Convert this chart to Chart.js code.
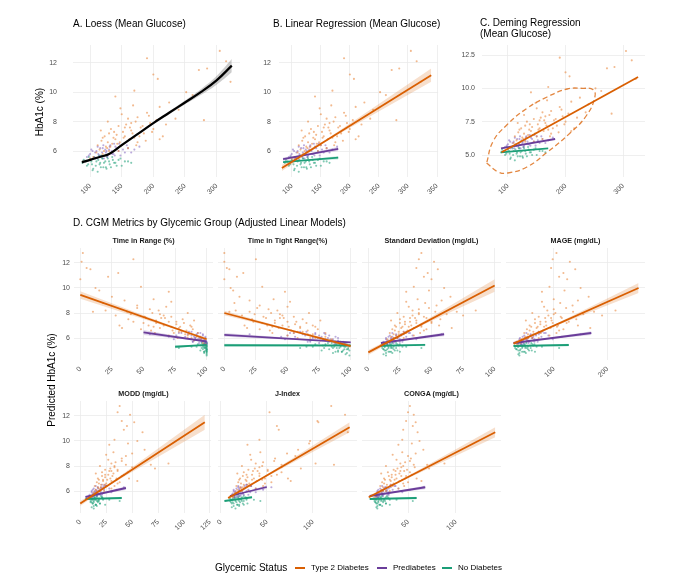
<!DOCTYPE html>
<html>
<head>
<meta charset="utf-8">
<script src="https://cdn.jsdelivr.net/npm/chart.js@4.4.1/dist/chart.umd.min.js"></script>
<style>
  body { margin: 0; background: #fff; font-family: "Liberation Sans", Arial, sans-serif; }
  #page { position: relative; width: 680px; height: 580px; overflow: hidden; }
  #page canvas { position: absolute; }
  .txt { position: absolute; white-space: nowrap; color: #000; line-height: 1; }
</style>
</head>
<body>
<div id="page"></div>
<script>
// ---- data ----
// one entry per subject, same order in every array of a group
const t2dHbA1c   = [12.8,12.3,12.1,11.6,11.5,11.2,10.9,10.7,10.1,10.0,9.8,9.7,9.3,9.0,8.8,8.1,8.6,8.3,8.2,8.5,7.9,7.6,7.4,7.7,7.2,7.0,6.9,6.8,6.9,7.2,7.5,6.5,6.3,6.4,6.2,6.1,5.9,6.0,6.0,6.6,7.8,8.2,5.6,5.8,5.5,7.9,7.6,6.8,7.3,6.6,
                    6.4,6.7,7.0,6.2,7.5,6.9,7.1,6.6,7.3,7.8,6.8,7.2,8.0,7.0,7.7,6.7,8.4,7.3,8.1,7.0,6.0,6.3,6.5,6.9,7.6,6.4,7.4,8.0,8.9,9.1];
const t2dGlucose = [305,190,315,285,272,200,207,322,170,252,262,140,225,210,240,280,190,175,160,150,195,180,165,145,130,155,170,140,120,185,200,135,125,150,160,115,110,130,145,175,220,235,105,120,100,165,155,210,138,128,
                    112,118,123,127,133,137,142,147,152,157,162,167,172,178,183,188,193,198,205,215,122,132,143,153,163,173,117,128,148,168];
const t2dTIR     = [2,42,1,5,8,30,22,0,48,12,15,70,25,35,18,10,45,55,62,68,40,52,60,72,82,66,58,78,88,50,38,80,86,74,70,92,95,85,77,56,28,20,97,90,99,63,67,33,76,84,
                    93,89,87,85,81,79,76,73,70,66,63,60,57,54,51,48,45,42,37,31,88,83,78,72,64,59,90,85,72,58];
const t2dTITR    = [0,25,0,2,4,15,10,0,30,5,7,48,12,20,8,4,28,35,42,50,24,33,40,55,65,46,38,60,72,30,22,62,70,55,50,80,85,68,58,36,14,9,90,76,94,44,47,18,57,66,
                    80,74,70,68,62,60,56,53,50,46,43,40,37,34,31,28,26,23,20,16,72,66,58,51,44,38,76,67,52,39];
const t2dSD      = [42,40,52,38,55,47,44,50,36,60,48,30,65,58,45,70,54,40,35,32,62,46,38,28,25,34,42,26,22,50,57,24,20,30,36,18,15,23,28,44,75,85,14,19,12,40,33,66,29,21,
                    17,19,21,22,25,27,29,31,33,35,36,38,40,42,44,46,48,50,53,56,20,24,28,32,37,41,18,23,30,39];
const t2dMAGE    = [105,98,130,95,140,118,110,125,92,150,120,78,165,145,112,175,135,100,88,82,155,115,96,72,65,86,106,68,58,124,142,62,52,76,92,47,40,60,72,110,190,215,38,50,32,100,84,168,75,55,
                    45,50,55,58,65,70,75,80,85,90,94,98,103,108,113,118,123,128,136,145,52,62,72,82,95,105,48,60,78,100];
const t2dMODD    = [38,36,48,40,52,45,42,60,33,55,46,28,62,50,44,68,40,34,30,27,50,36,32,24,21,29,35,22,18,40,46,20,17,25,30,15,13,19,23,36,72,85,12,16,10,33,28,55,24,18,
                    14,16,17,18,21,22,24,25,27,29,30,31,33,35,36,38,40,42,44,47,16,20,23,26,30,33,15,19,25,32];
const t2dJ       = [120,53,135,105,106,61,63,138,42,97,96,29,84,72,81,123,59,46,38,33,66,51,42,30,24,36,45,28,20,55,66,25,21,32,38,18,16,23,30,48,87,103,14,19,13,42,35,76,28,22,
                    17,19,21,22,25,27,29,31,34,37,39,42,45,48,51,55,58,61,66,73,20,24,29,34,40,46,18,23,32,43];
const t2dCONGA   = [52,50,56,48,58,55,45,60,44,62,54,40,66,58,50,70,53,47,42,38,57,46,41,35,30,38,44,32,26,48,52,28,24,34,40,22,19,27,31,45,72,88,17,22,15,43,37,64,33,25,
                    21,23,25,26,29,31,33,35,37,39,41,43,45,47,49,50,52,54,56,59,24,28,32,36,42,46,22,27,34,44];

const preHbA1c   = [5.6,5.8,5.5,6.0,5.7,6.2,5.9,6.1,5.8,6.3,6.0,6.4,5.9,6.2,5.9,5.6,5.7,6.3,6.5,6.1,6.1,5.5,5.7,6.4,6.3,
                    5.7,6.0,5.6,5.8,6.2,5.9,6.1,5.6,6.3,6.0,5.8,6.2,6.5,6.1,6.4,5.5,6.4,6.0,5.7,5.9];
const preGlucose = [95,100,105,110,115,120,125,130,135,140,145,150,155,160,108,118,128,112,138,170,102,122,148,132,178,
                    98,104,107,113,116,119,124,127,131,134,137,142,146,152,158,111,121,126,139,165];
const preTIR     = [100,99,100,96,97,92,95,90,94,85,91,80,93,76,98,99,96,97,88,70,99,98,89,93,55,
                    100,99,99,98,97,96,95,94,92,91,90,88,86,83,78,98,95,94,89,74];
const preTITR    = [95,90,97,82,88,75,84,70,80,62,74,55,78,50,86,92,83,80,65,45,88,93,68,72,20,
                    94,90,88,85,83,80,77,75,72,70,68,64,60,56,52,87,79,76,66,48];
const preSD      = [12,15,13,18,16,22,19,24,20,28,23,32,25,35,14,17,21,26,30,45,16,15,27,29,58,
                    12,14,15,16,17,18,19,20,22,23,24,26,28,30,33,15,19,20,25,38];
const preMAGE    = [32,40,34,46,42,56,50,62,52,72,60,82,64,90,36,44,54,66,78,115,42,38,70,74,150,
                    31,37,39,43,45,48,51,53,57,60,62,67,72,77,85,41,49,52,64,98];
const preMODD    = [9,12,10,14,13,17,15,19,16,22,18,25,20,28,11,13,16,20,24,35,12,11,21,23,42,
                    9,11,12,13,13,14,15,16,17,18,19,20,21,23,25,12,15,16,19,30];
const preJ       = [11,13,14,16,17,20,21,24,24,28,28,33,32,38,15,18,22,19,28,46,14,19,30,26,55,
                    12,14,15,16,17,18,20,21,22,23,24,26,28,30,33,15,19,20,25,38];
const preCONGA   = [16,18,17,21,20,25,23,28,25,32,28,36,30,40,18,20,24,27,34,52,19,18,30,31,66,
                    16,18,18,20,21,22,23,24,26,27,28,30,32,34,37,19,23,24,29,44];

const ndHbA1c    = [5.2,5.0,5.4,4.8,5.3,5.1,5.5,4.9,5.3,5.6,5.2,5.4,5.0,5.3,5.6,5.5,4.6,5.7,5.2,5.5,5.1,4.9,5.2,5.3,4.9,
                    5.4,5.1,5.3,5.6,5.0,5.4,5.2,5.5,4.9,5.3,5.6,5.1,5.4,5.0,5.5,4.7,5.7,4.8,5.2,5.3];
const ndGlucose  = [88,95,100,105,110,115,120,125,130,135,140,145,150,160,98,108,112,118,122,128,103,133,165,93,117,
                    90,97,102,106,109,113,116,119,121,124,127,131,136,142,148,104,114,126,138,155];
const ndTIR      = [100,100,100,100,99,100,98,100,97,96,98,95,99,88,100,100,100,99,99,97,100,98,78,100,100,
                    100,100,100,100,100,99,99,99,98,98,98,97,96,95,93,100,99,98,96,92];
const ndTITR     = [98,99,94,97,92,95,88,93,85,82,86,78,90,65,96,91,99,87,89,80,97,90,60,95,93,
                    99,98,96,95,94,92,91,89,88,87,85,83,80,77,72,96,92,86,79,70];
const ndSD       = [11,13,12,14,16,15,18,17,20,22,19,24,21,30,13,15,14,19,18,23,12,25,42,13,16,
                    10,12,13,13,14,15,16,17,18,18,19,20,22,23,25,12,15,19,22,27];
const ndMAGE     = [28,34,31,36,42,38,46,44,52,58,50,62,54,78,33,39,36,49,47,60,31,65,110,34,41,
                    27,30,33,35,37,40,41,44,46,47,49,52,56,59,64,34,40,48,57,68];
const ndMODD     = [10,12,11,13,14,13,16,15,18,20,17,22,19,28,12,14,13,17,16,21,11,24,38,12,15,
                    9,10,11,12,12,13,13,14,15,15,16,17,18,19,21,11,13,16,18,22];
const ndJ        = [10,12,13,14,16,17,19,20,22,25,25,28,29,36,12,15,16,19,20,23,13,25,43,11,18,
                    10,11,12,13,14,15,16,17,18,19,20,21,22,24,27,12,15,20,23,28];
const ndCONGA    = [15,17,16,18,20,19,22,21,25,28,24,30,27,38,17,19,18,23,22,27,16,31,55,17,20,
                    14,16,16,17,18,19,19,21,21,22,23,24,26,27,29,17,19,23,26,31];

// loess curve of panel A
const loessX    = [87,100,115,130,150,175,200,225,250,275,300,324];
const loessY    = [5.25,5.4,5.6,5.8,6.4,7.15,7.9,8.6,9.3,10.0,10.8,11.8];
const loessHalf = [0.14,0.08,0.06,0.06,0.07,0.07,0.08,0.1,0.14,0.2,0.3,0.45];

// 95% ellipse of the type 2 group in panel C
const ellipseX = [63,83,100,133,168,208,237,251,248,230,203,168,133,98,74,63];
const ellipseY = [4.4,3.73,3.65,4.1,5.2,6.65,8.0,9.35,9.9,10.0,9.95,9.35,8.5,7.25,6.0,4.4];

// fitted lines: [x0, y0, x1, y1, x at narrowest band, half band at x0, at narrowest, at x1]
const fitGlucose = { t2d: [83,4.85,340,11.15,160,0.2,0.06,0.45], pre: [85,5.45,180,6.15,125,0.12,0.04,0.15], nd: [85,5.25,180,5.55,120,0.08,0.03,0.12] };
const fitDeming  = { t2d: [89,5.2,326,10.85], pre: [88,5.5,182,6.2], nd: [88,5.2,170,5.5] };
const fitTIR     = { t2d: [0,9.45,100,5.9,75,0.3,0.08,0.12], pre: [50,6.45,100,5.72,92,0.2,0.04,0.06], nd: [75,5.3,100,5.45,97,0.12,0.03,0.04] };
const fitTITR    = { t2d: [0,8.0,100,5.35,50,0.18,0.07,0.15], pre: [0,6.25,100,5.65,75,0.15,0.04,0.06], nd: [0,5.42,100,5.4,85,0.12,0.03,0.04] };
const fitSD      = { t2d: [0,4.85,100,10.2,35,0.2,0.07,0.5], pre: [10,5.6,60,6.3,22,0.06,0.03,0.15], nd: [10,5.38,45,5.45,17,0.05,0.02,0.1] };
const fitMAGE    = { t2d: [25,5.55,258,10.0,95,0.15,0.06,0.4], pre: [25,5.6,170,6.4,60,0.06,0.03,0.15], nd: [25,5.36,128,5.44,45,0.05,0.02,0.1] };
const fitMODD    = { t2d: [0,5.0,120,11.5,30,0.2,0.07,0.6], pre: [5,5.52,44,6.24,18,0.06,0.03,0.15], nd: [5,5.36,40,5.44,16,0.05,0.02,0.1] };
const fitJ       = { t2d: [8,5.44,140,11.1,45,0.12,0.06,0.4], pre: [10,5.6,50,6.32,24,0.06,0.03,0.15], nd: [4,5.2,34,5.5,20,0.06,0.02,0.08] };
const fitCONGA   = { t2d: [9,5.5,141,10.7,40,0.12,0.06,0.4], pre: [10,5.6,68,6.3,28,0.06,0.03,0.15], nd: [10,5.36,59,5.44,22,0.05,0.02,0.1] };

const hbTicks = [6, 8, 10, 12];
const groupNames = ['Type 2 Diabetes', 'Prediabetes', 'No Diabetes'];

// ---- styles ----
const groups = [
  { key: 't2d', line: '#D95F02', point: 'rgba(232,128,50,0.55)', band: 'rgba(217,95,2,0.2)', y: t2dHbA1c },
  { key: 'pre', line: '#6A3D9A', point: 'rgba(120,85,185,0.5)', band: 'rgba(106,61,154,0.2)', y: preHbA1c },
  { key: 'nd',  line: '#1B9E77', point: 'rgba(27,158,119,0.55)', band: 'rgba(27,158,119,0.2)', y: ndHbA1c }
];
const xByGroup = {
  glucose: [t2dGlucose, preGlucose, ndGlucose],
  tir: [t2dTIR, preTIR, ndTIR],
  titr: [t2dTITR, preTITR, ndTITR],
  sd: [t2dSD, preSD, ndSD],
  mage: [t2dMAGE, preMAGE, ndMAGE],
  modd: [t2dMODD, preMODD, ndMODD],
  j: [t2dJ, preJ, ndJ],
  conga: [t2dCONGA, preCONGA, ndCONGA]
};

const page = document.getElementById('page');

function text(str, x, y, css, anchor) {
  const d = document.createElement('div');
  d.className = 'txt';
  d.textContent = str;
  Object.assign(d.style, { left: x + 'px', top: y + 'px' }, css || {});
  d.style.transform = anchor || 'translate(0,-50%)';
  page.appendChild(d);
  return d;
}

function pts(xs, ys) {
  return xs.map((x, i) => ({ x, y: ys[i] }));
}

function fitDatasets(fit, g) {
  const [x0, y0, x1, y1, xm, w0, wm, w1] = fit;
  const out = [];
  if (xm !== undefined) {
    const ym = y0 + (y1 - y0) * (xm - x0) / (x1 - x0);
    out.push({ data: [{ x: x0, y: y0 - w0 }, { x: xm, y: ym - wm }, { x: x1, y: y1 - w1 }], showLine: true, borderWidth: 0, pointRadius: 0, fill: false, order: 2 });
    out.push({ data: [{ x: x0, y: y0 + w0 }, { x: xm, y: ym + wm }, { x: x1, y: y1 + w1 }], showLine: true, borderWidth: 0, pointRadius: 0, fill: '-1', backgroundColor: g.band, order: 2 });
  }
  out.push({ data: [{ x: x0, y: y0 }, { x: x1, y: y1 }], showLine: true, borderColor: g.line, borderWidth: 1.8, pointRadius: 0, fill: false, order: 0 });
  return out;
}

function makePanel(p) {
  const padT = (p.yLabels ? p.ypad : 0) + 10, padR = 8, padB = 2, XH = 24;
  const YW = p.yLabels ? p.ypad + 18 : 0;
  const padL = p.yLabels ? 2 : 16;
  const [L, T, R, B] = p.rect;
  const cw = padL + YW + (R - L) + padR;
  const ch = padT + (B - T) + XH + padB;
  const canvas = document.createElement('canvas');
  canvas.width = cw; canvas.height = ch;
  canvas.style.left = (L - padL - YW) + 'px';
  canvas.style.top = (T - padT) + 'px';
  canvas.style.width = cw + 'px'; canvas.style.height = ch + 'px';
  page.appendChild(canvas);

  const datasets = [];
  groups.forEach((g, gi) => {
    datasets.push({ data: pts(xByGroup[p.metric][gi], g.y), showLine: false, pointRadius: 1.05, pointBorderWidth: 0,
      pointBackgroundColor: g.point, order: 3 });
    if (p.fit) fitDatasets(p.fit[g.key], g).forEach(d => datasets.push(d));
  });
  if (p.loess) {
    datasets.push({ data: pts(loessX, loessY.map((v, i) => v - loessHalf[i])), showLine: true, borderWidth: 0, pointRadius: 0, tension: 0.4, fill: false, order: 2 });
    datasets.push({ data: pts(loessX, loessY.map((v, i) => v + loessHalf[i])), showLine: true, borderWidth: 0, pointRadius: 0, tension: 0.4, fill: '-1', backgroundColor: 'rgba(110,110,110,0.35)', order: 2 });
    datasets.push({ data: pts(loessX, loessY), showLine: true, borderColor: '#000', borderWidth: 2.2, pointRadius: 0, tension: 0.4, fill: false, order: 0 });
  }
  if (p.ellipse) {
    datasets.push({ data: pts(ellipseX, ellipseY), showLine: true, borderColor: 'rgba(217,95,2,0.75)', borderWidth: 1.3, borderDash: [5, 3],
      pointRadius: 0, tension: 0.45, fill: false, order: 1 });
  }

  const tickFont = { family: '"Liberation Sans", Arial, sans-serif', size: 7 };
  new Chart(canvas, {
    type: 'line',
    data: { datasets },
    options: {
      responsive: false,
      animation: false,
      layout: { padding: { top: padT, right: padR, bottom: padB, left: padL } },
      plugins: { legend: { display: false }, tooltip: { enabled: false } },
      elements: { line: { borderCapStyle: 'butt' } },
      scales: {
        x: {
          type: 'linear', min: p.xr[0], max: p.xr[1],
          afterBuildTicks: s => { s.ticks = p.xt.map(v => ({ value: v })); },
          afterFit: s => { s.height = XH; },
          grid: { color: '#EBEBEB', lineWidth: 0.8, drawTicks: false },
          border: { display: false },
          ticks: { color: '#4D4D4D', font: tickFont, padding: 5, minRotation: 45, maxRotation: 45, autoSkip: false }
        },
        y: {
          type: 'linear', min: p.yr[0], max: p.yr[1], display: true,
          afterBuildTicks: s => { s.ticks = p.yt.map(v => ({ value: v })); },
          afterFit: s => { s.width = YW; },
          grid: { color: '#EBEBEB', lineWidth: 0.8, drawTicks: false },
          border: { display: false },
          ticks: { display: !!p.yLabels, color: '#4D4D4D', font: tickFont, padding: p.ypad || 4,
            callback: v => p.yFmt ? v.toFixed(1) : String(v) }
        }
      }
    }
  });
}

const hbRange = [4.24, 13.2];
const row1 = [248, 360], row2 = [401, 513];
const colL = [74, 218, 362, 506], colW = 139;

const panels = [
  { rect: [73, 45, 240, 177], metric: 'glucose', xr: [73, 337], xt: [100, 150, 200, 250, 300], yr: hbRange, yt: hbTicks, yLabels: true, ypad: 16, loess: true },
  { rect: [279, 45, 440, 177], metric: 'glucose', xr: [78, 352], xt: [100, 150, 200, 250, 300, 350], yr: hbRange, yt: hbTicks, yLabels: true, ypad: 8, fit: fitGlucose },
  { rect: [482, 45, 645, 177], metric: 'glucose', xr: [55, 338], xt: [100, 200, 300], yr: [3.35, 13.25], yt: [5, 7.5, 10, 12.5], yLabels: true, ypad: 7, yFmt: true, fit: fitDeming, ellipse: true },
  { rect: [colL[0], row1[0], colL[0] + colW, row1[1]], metric: 'tir', xr: [-5, 105], xt: [0, 25, 50, 75, 100], yr: hbRange, yt: hbTicks, yLabels: true, ypad: 4, fit: fitTIR, strip: 'Time in Range (%)' },
  { rect: [colL[1], row1[0], colL[1] + colW, row1[1]], metric: 'titr', xr: [-5, 105], xt: [0, 25, 50, 75, 100], yr: hbRange, yt: hbTicks, fit: fitTITR, strip: 'Time in Tight Range(%)' },
  { rect: [colL[2], row1[0], colL[2] + colW, row1[1]], metric: 'sd', xr: [-5, 105], xt: [0, 25, 50, 75, 100], yr: hbRange, yt: hbTicks, fit: fitSD, strip: 'Standard Deviation (mg/dL)' },
  { rect: [colL[3], row1[0], colL[3] + colW, row1[1]], metric: 'mage', xr: [11, 270], xt: [100, 200], yr: hbRange, yt: hbTicks, fit: fitMAGE, strip: 'MAGE (mg/dL)' },
  { rect: [colL[0], row2[0], colL[0] + colW, row2[1]], metric: 'modd', xr: [-6, 126], xt: [0, 25, 50, 75, 100, 125], yr: hbRange, yt: hbTicks, yLabels: true, ypad: 4, fit: fitMODD, strip: 'MODD (mg/dL)' },
  { rect: [colL[1], row2[0], colL[1] + colW, row2[1]], metric: 'j', xr: [-3, 148], xt: [0, 50, 100], yr: hbRange, yt: hbTicks, fit: fitJ, strip: 'J-Index' },
  { rect: [colL[2], row2[0], colL[2] + colW, row2[1]], metric: 'conga', xr: [2, 147], xt: [50, 100], yr: hbRange, yt: hbTicks, fit: fitCONGA, strip: 'CONGA (mg/dL)' }
];

panels.forEach(p => {
  makePanel(p);
  if (p.strip) {
    const cx = (p.rect[0] + p.rect[2]) / 2;
    text(p.strip, cx, p.rect[1] - 7, { fontSize: '7.2px', fontWeight: 'bold', color: '#1A1A1A' }, 'translate(-50%,-50%)');
  }
});

// titles
text('A. Loess (Mean Glucose)', 73, 24, { fontSize: '10px' });
text('B. Linear Regression (Mean Glucose)', 273, 24, { fontSize: '10px' });
text('C. Deming Regression', 480, 23, { fontSize: '10px' });
text('(Mean Glucose)', 480, 34, { fontSize: '10px' });
text('D. CGM Metrics by Glycemic Group (Adjusted Linear Models)', 73, 223, { fontSize: '10px' });
text('HbA1c (%)', 40, 112, { fontSize: '10px' }, 'translate(-50%,-50%) rotate(-90deg)');
text('Predicted HbA1c (%)', 52, 380, { fontSize: '10px' }, 'translate(-50%,-50%) rotate(-90deg)');

// legend
text('Glycemic Status', 215, 568, { fontSize: '10px' });
const legendX = [295, 377, 442];
groups.forEach((g, i) => {
  const sw = document.createElement('div');
  Object.assign(sw.style, { position: 'absolute', left: legendX[i] + 'px', top: '567px', width: '10px', height: '2px', background: g.line });
  page.appendChild(sw);
  text(groupNames[i], legendX[i] + 16, 568, { fontSize: '8px' });
});
</script>
</body>
</html>
